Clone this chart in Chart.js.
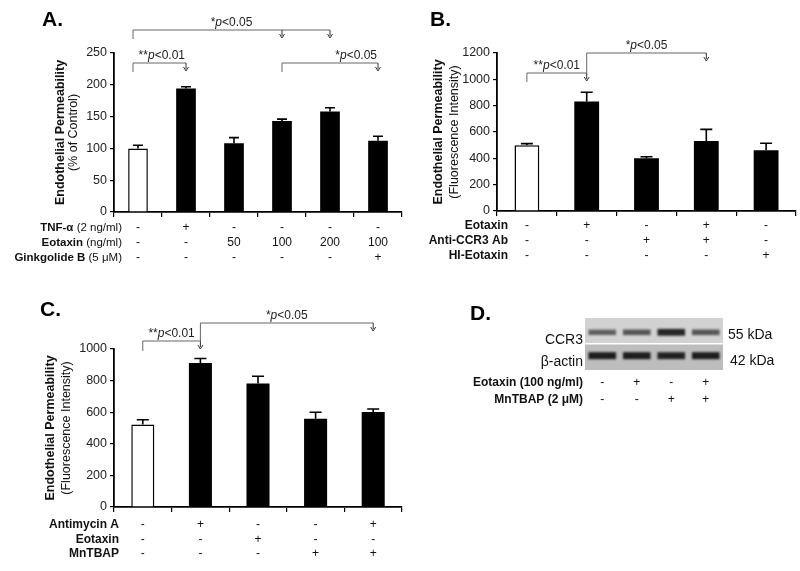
<!DOCTYPE html>
<html>
<head>
<meta charset="utf-8">
<script src="https://cdn.jsdelivr.net/npm/chart.js@4.4.1/dist/chart.umd.min.js"></script>
<style>
  body { margin: 0; background: #fff; }
  #wrap { position: relative; width: 800px; height: 571px; overflow: hidden; }
  canvas { position: absolute; }
</style>
</head>
<body>
<div id="wrap">
  <canvas id="chartA" width="405" height="285" style="left:0;top:0"></canvas>
  <canvas id="chartB" width="395" height="285" style="left:405px;top:0"></canvas>
  <canvas id="chartC" width="405" height="281" style="left:0;top:290px"></canvas>
  <canvas id="chartD" width="370" height="130" style="left:430px;top:290px"></canvas>
</div>
<script>
// Panel A data
const groupsA = ['Control', 'TNF-α', 'Eotaxin 50', 'Eotaxin 100', 'Eotaxin 200', 'Eotaxin 100 + GB'];
const valuesA = [100, 194, 108, 143, 158, 112];
const errorsA = [5, 3, 9, 3, 6, 7];
const ticksA = [0, 50, 100, 150, 200, 250];
const tnfA = ['-', '+', '-', '-', '-', '-'];
const eotaxinA = ['-', '-', '50', '100', '200', '100'];
const ginkgolideA = ['-', '-', '-', '-', '-', '+'];

// Panel B data
const groupsB = ['Control', 'Eotaxin', 'Anti-CCR3', 'Eotaxin + Anti-CCR3', 'HI-Eotaxin'];
const valuesB = [500, 832, 400, 532, 462];
const errorsB = [12, 70, 12, 88, 52];
const ticksB = [0, 200, 400, 600, 800, 1000, 1200];
const eotaxinB = ['-', '+', '-', '+', '-'];
const antiCcr3B = ['-', '-', '+', '+', '-'];
const hiEotaxinB = ['-', '-', '-', '-', '+'];

// Panel C data
const groupsC = ['Control', 'Antimycin A', 'Eotaxin', 'MnTBAP', 'Antimycin A + MnTBAP'];
const valuesC = [522, 912, 782, 558, 602];
const errorsC = [30, 28, 46, 42, 18];
const ticksC = [0, 200, 400, 600, 800, 1000];
const antimycinC = ['-', '+', '-', '-', '+'];
const eotaxinC = ['-', '-', '+', '-', '-'];
const mntbapC = ['-', '-', '-', '+', '+'];

// Panel D data (blot band intensity, 0..1)
const lanesD = ['1', '2', '3', '4'];
const ccr3Band = [0.55, 0.6, 0.85, 0.6];
const actinBand = [0.9, 0.9, 0.88, 0.9];
const eotaxinD = ['-', '+', '-', '+'];
const mntbapD = ['-', '-', '+', '+'];

const FONT = '"Liberation Sans", Arial, sans-serif';

function font(size, weight, style) {
    return (style || '') + ' ' + (weight || 'normal') + ' ' + size + 'px ' + FONT;
}

// Draws "*p<0.05" style labels with italic p
function drawPText(ctx, text, x, y, align) {
    const parts = text.split('p');
    ctx.font = font(12);
    const w1 = ctx.measureText(parts[0]).width;
    const w3 = ctx.measureText(parts[1]).width;
    ctx.font = font(12, 'normal', 'italic');
    const w2 = ctx.measureText('p').width;
    const total = w1 + w2 + w3;
    let sx = align === 'right' ? x - total : x - total / 2;
    ctx.textAlign = 'left';
    ctx.textBaseline = 'alphabetic';
    ctx.fillStyle = '#222';
    ctx.font = font(12);
    ctx.fillText(parts[0], sx, y);
    ctx.font = font(12, 'normal', 'italic');
    ctx.fillText('p', sx + w1, y);
    ctx.font = font(12);
    ctx.fillText(parts[1], sx + w1 + w2, y);
}

function drawArrow(ctx, x, y1, y2) {
    ctx.beginPath();
    ctx.moveTo(x, y1);
    ctx.lineTo(x, y2 - 2);
    ctx.stroke();
    ctx.beginPath();
    ctx.moveTo(x - 2.5, y2 - 4);
    ctx.lineTo(x, y2);
    ctx.lineTo(x + 2.5, y2 - 4);
    ctx.stroke();
}

// Figure annotations: panel letter, axis title, error bars, brackets, condition rows
const figurePlugin = {
    id: 'figure',
    afterDatasetsDraw(chart, args, opts) {
        const ctx = chart.ctx;
        const x = chart.scales.x;
        const y = chart.scales.y;
        const area = chart.chartArea;
        ctx.save();

        // error bars (upper only)
        if (opts.errors) {
            const meta = chart.getDatasetMeta(0);
            const vals = chart.data.datasets[0].data;
            ctx.strokeStyle = '#000';
            ctx.lineWidth = 1.6;
            meta.data.forEach((bar, i) => {
                const top = y.getPixelForValue(vals[i]);
                const tip = y.getPixelForValue(vals[i] + opts.errors[i]);
                ctx.beginPath();
                ctx.moveTo(bar.x, top);
                ctx.lineTo(bar.x, tip);
                ctx.moveTo(bar.x - opts.cap, tip);
                ctx.lineTo(bar.x + opts.cap, tip);
                ctx.stroke();
            });
        }

        // significance brackets
        (opts.brackets || []).forEach(b => {
            const x0 = x.getPixelForValue(b.from) + (b.dx || 0);
            const xs = b.to.map(t => x.getPixelForValue(t));
            const x1 = Math.max(...xs);
            ctx.strokeStyle = '#666';
            ctx.lineWidth = 1;
            ctx.beginPath();
            ctx.moveTo(x0, b.y + b.leftDrop);
            ctx.lineTo(x0, b.y);
            ctx.lineTo(x1, b.y);
            ctx.stroke();
            ctx.strokeStyle = '#333';
            xs.forEach(ax => drawArrow(ctx, ax, b.y, b.y + b.arrowDrop));
            const tx = b.align === 'right' ? x1 - 1 : (x0 + x1) / 2;
            drawPText(ctx, b.text, tx, b.y - 4, b.align);
        });

        // condition rows under the x axis
        ctx.textBaseline = 'middle';
        (opts.rows || []).forEach((row, r) => {
            const ry = area.bottom + opts.rowTop + r * opts.rowGap;
            ctx.fillStyle = '#111';
            ctx.textAlign = 'right';
            ctx.font = font(opts.rowFont);
            const uw = row.unit ? ctx.measureText(row.unit).width : 0;
            if (row.unit) ctx.fillText(row.unit, opts.rowRight, ry);
            ctx.font = font(opts.rowFont, 'bold');
            ctx.fillText(row.name, opts.rowRight - uw, ry);
            ctx.textAlign = 'center';
            ctx.font = font(12);
            row.values.forEach((v, i) => {
                ctx.fillText(v, x.getPixelForValue(i), ry);
            });
        });

        // panel letter
        ctx.fillStyle = '#000';
        ctx.textAlign = 'left';
        ctx.textBaseline = 'alphabetic';
        ctx.font = font(21, 'bold');
        ctx.fillText(opts.letter, opts.letterX, opts.letterY);

        // rotated y-axis title
        if (opts.yTitle) {
            const cy = (area.top + area.bottom) / 2;
            ctx.textAlign = 'center';
            ctx.textBaseline = 'middle';
            ctx.save();
            ctx.translate(opts.yTitleX[0], cy);
            ctx.rotate(-Math.PI / 2);
            ctx.font = font(12.5, 'bold');
            ctx.fillStyle = '#111';
            ctx.fillText(opts.yTitle[0], 0, 0);
            ctx.restore();
            ctx.save();
            ctx.translate(opts.yTitleX[1], cy);
            ctx.rotate(-Math.PI / 2);
            ctx.font = font(12.5);
            ctx.fillStyle = '#111';
            ctx.fillText(opts.yTitle[1], 0, 0);
            ctx.restore();
        }
        ctx.restore();
    }
};

function barChart(id, cfg) {
    return new Chart(document.getElementById(id), {
        type: 'bar',
        data: {
            labels: cfg.labels,
            datasets: [{
                data: cfg.values,
                backgroundColor: cfg.values.map((v, i) => i === 0 ? '#fff' : '#000'),
                borderColor: '#000',
                borderWidth: cfg.values.map((v, i) => i === 0 ? 1.5 : 0),
                barPercentage: cfg.barPct,
                categoryPercentage: 1
            }]
        },
        options: {
            responsive: false,
            animation: false,
            devicePixelRatio: 1,
            layout: { padding: cfg.padding },
            plugins: {
                legend: { display: false },
                tooltip: { enabled: false },
                figure: cfg.figure
            },
            scales: {
                x: {
                    offset: true,
                    grid: { offset: true, drawOnChartArea: false, drawTicks: true, tickLength: 5, color: '#000', lineWidth: 1.2 },
                    border: { color: '#000', width: 1.8 },
                    ticks: { display: false },
                    afterFit: s => { s.height = 5; }
                },
                y: {
                    min: 0,
                    max: cfg.ticks[cfg.ticks.length - 1],
                    afterBuildTicks: s => { s.ticks = cfg.ticks.map(v => ({ value: v })); },
                    grid: { drawOnChartArea: false, drawTicks: true, tickLength: 4, color: '#000', lineWidth: 1.2 },
                    border: { color: '#000', width: 1.8 },
                    ticks: {
                        color: '#222',
                        font: { family: FONT, size: 12.5 },
                        padding: 3,
                        callback: v => String(v)
                    },
                    afterFit: s => { s.width = cfg.yWidth; }
                }
            }
        },
        plugins: [figurePlugin]
    });
}

barChart('chartA', {
    labels: groupsA, values: valuesA, ticks: ticksA, barPct: 0.41, yWidth: 114,
    padding: { top: 53, right: 3, bottom: 285 - 212 - 5, left: 0 },
    figure: {
        letter: 'A.', letterX: 42, letterY: 26,
        yTitle: ['Endothelial Permeability', '(% of Control)'], yTitleX: [61, 74],
        errors: errorsA, cap: 5,
        rowTop: 16, rowGap: 15, rowRight: 122, rowFont: 11.5,
        rows: [
            { name: 'TNF-α', unit: ' (2 ng/ml)', values: tnfA },
            { name: 'Eotaxin', unit: ' (ng/ml)', values: eotaxinA },
            { name: 'Ginkgolide B', unit: ' (5 μM)', values: ginkgolideA }
        ],
        brackets: [
            { from: 0, dx: -5, to: [3, 4], y: 30, leftDrop: 9, arrowDrop: 8, text: '*p<0.05' },
            { from: 0, dx: -5, to: [1], y: 63, leftDrop: 9, arrowDrop: 8, text: '**p<0.01', align: 'right' },
            { from: 3, to: [5], y: 63, leftDrop: 9, arrowDrop: 8, text: '*p<0.05', align: 'right' }
        ]
    }
});

barChart('chartB', {
    labels: groupsB, values: valuesB, ticks: ticksB, barPct: 0.415, yWidth: 92,
    padding: { top: 53, right: 4, bottom: 285 - 211 - 5, left: 0 },
    figure: {
        letter: 'B.', letterX: 25, letterY: 26,
        yTitle: ['Endothelial Permeability', '(Fluorescence Intensity)'], yTitleX: [34, 50],
        errors: errorsB, cap: 6,
        rowTop: 15, rowGap: 15, rowRight: 103, rowFont: 12,
        rows: [
            { name: 'Eotaxin', values: eotaxinB },
            { name: 'Anti-CCR3 Ab', values: antiCcr3B },
            { name: 'HI-Eotaxin', values: hiEotaxinB }
        ],
        brackets: [
            { from: 0, to: [1], y: 73, leftDrop: 9, arrowDrop: 8, text: '**p<0.01' },
            { from: 1, to: [3], y: 53, leftDrop: 22, arrowDrop: 8, text: '*p<0.05' }
        ]
    }
});

barChart('chartC', {
    labels: groupsC, values: valuesC, ticks: ticksC, barPct: 0.40, yWidth: 114,
    padding: { top: 59, right: 3, bottom: 281 - 217 - 5, left: 0 },
    figure: {
        letter: 'C.', letterX: 40, letterY: 26,
        yTitle: ['Endothelial Permeability', '(Fluorescence Intensity)'], yTitleX: [51, 67],
        errors: errorsC, cap: 6,
        rowTop: 18, rowGap: 14.5, rowRight: 119, rowFont: 12,
        rows: [
            { name: 'Antimycin A', values: antimycinC },
            { name: 'Eotaxin', values: eotaxinC },
            { name: 'MnTBAP', values: mntbapC }
        ],
        brackets: [
            { from: 0, to: [1], y: 51, leftDrop: 10, arrowDrop: 8, text: '**p<0.01' },
            { from: 1, to: [4], y: 33, leftDrop: 18, arrowDrop: 8, text: '*p<0.05' }
        ]
    }
});

// Panel D: western blot drawn as floating bars on two strips
const bandHalf = 0.09;
const ccr3Mid = 1.45;
const actinMid = 0.55;
const blotPlugin = {
    id: 'blot',
    beforeDatasetsDraw(chart) {
        const ctx = chart.ctx;
        const a = chart.chartArea;
        const y = chart.scales.y;
        ctx.save();
        ctx.fillStyle = '#d2d2d2';
        ctx.fillRect(a.left, y.getPixelForValue(2), a.width, y.getPixelForValue(1.04) - y.getPixelForValue(2));
        ctx.fillStyle = '#bdbdbd';
        ctx.fillRect(a.left, y.getPixelForValue(0.98), a.width, y.getPixelForValue(0) - y.getPixelForValue(0.98));
        ctx.restore();
        ctx.save();
        ctx.filter = 'blur(0.8px)';
    },
    afterDatasetsDraw(chart) {
        const ctx = chart.ctx;
        ctx.restore();
        const x = chart.scales.x;
        const y = chart.scales.y;
        const a = chart.chartArea;
        ctx.save();
        ctx.fillStyle = '#111';
        ctx.font = font(14);
        ctx.textBaseline = 'alphabetic';
        ctx.textAlign = 'right';
        ctx.fillText('CCR3', a.left - 2, y.getPixelForValue(1.04) + 1);
        ctx.fillText('β-actin', a.left - 2, y.getPixelForValue(0) - 4);
        ctx.textAlign = 'left';
        ctx.fillText('55 kDa', a.right + 5, y.getPixelForValue(1.04) - 4);
        ctx.fillText('42 kDa', a.right + 7, y.getPixelForValue(0) - 5);
        ctx.textBaseline = 'middle';
        const rows = [
            { name: 'Eotaxin (100 ng/ml)', values: eotaxinD },
            { name: 'MnTBAP (2 μM)', values: mntbapD }
        ];
        rows.forEach((row, r) => {
            const ry = a.bottom + 13 + r * 17;
            ctx.textAlign = 'right';
            ctx.font = font(12, 'bold');
            ctx.fillText(row.name, a.left - 2, ry);
            ctx.textAlign = 'center';
            ctx.font = font(12);
            row.values.forEach((v, i) => ctx.fillText(v, x.getPixelForValue(i), ry));
        });
        ctx.fillStyle = '#000';
        ctx.textAlign = 'left';
        ctx.textBaseline = 'alphabetic';
        ctx.font = font(21, 'bold');
        ctx.fillText('D.', 40, 30);
        ctx.restore();
    }
};

function shade(v) {
    const g = Math.round(200 - 190 * v);
    return 'rgb(' + g + ',' + g + ',' + g + ')';
}

new Chart(document.getElementById('chartD'), {
    type: 'bar',
    data: {
        labels: lanesD,
        datasets: [
            {
                data: ccr3Band.map(v => [ccr3Mid - bandHalf * (0.6 + v), ccr3Mid + bandHalf * (0.6 + v)]),
                backgroundColor: ccr3Band.map(shade),
                barPercentage: 0.8, categoryPercentage: 1, grouped: false
            },
            {
                data: actinBand.map(v => [actinMid - bandHalf * (0.6 + v), actinMid + bandHalf * (0.6 + v)]),
                backgroundColor: actinBand.map(shade),
                barPercentage: 0.8, categoryPercentage: 1, grouped: false
            }
        ]
    },
    options: {
        responsive: false,
        animation: false,
        devicePixelRatio: 1,
        layout: { padding: { top: 28, bottom: 50, left: 155, right: 77 } },
        plugins: { legend: { display: false }, tooltip: { enabled: false } },
        scales: {
            x: { display: false, offset: true },
            y: { display: false, min: 0, max: 2 }
        }
    },
    plugins: [blotPlugin]
});
</script>
</body>
</html>
